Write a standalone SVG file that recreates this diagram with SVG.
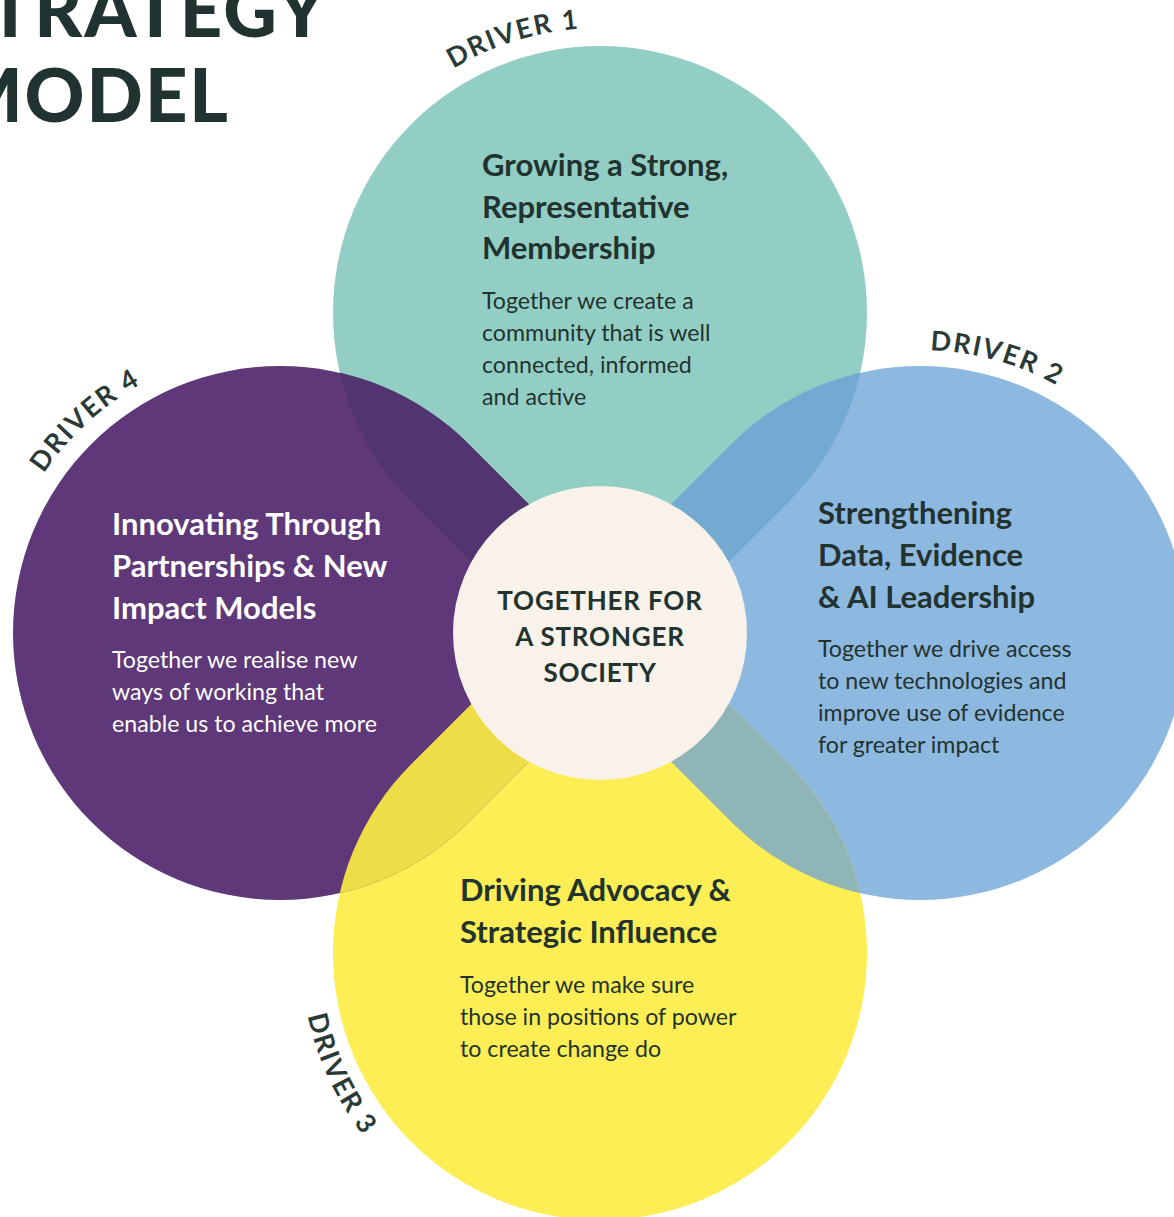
<svg xmlns="http://www.w3.org/2000/svg" width="1174" height="1217" viewBox="0 0 1174 1217">
<style>
.title{font-family:Lato,"Liberation Sans",sans-serif;font-weight:900;font-size:74px;fill:#213330;letter-spacing:2px}
.drv{font-family:Lato,"Liberation Sans",sans-serif;font-weight:700;font-size:27px;fill:#2a3b37;letter-spacing:1.8px}
.hd{font-family:Lato,"Liberation Sans",sans-serif;font-weight:700;font-size:31px;fill:#22332f}
.bd{font-family:Lato,"Liberation Sans",sans-serif;font-weight:400;font-size:23.2px;fill:#22332f}
.wh{fill:#ffffff}
.ctr{font-family:Lato,"Liberation Sans",sans-serif;font-weight:700;font-size:26px;fill:#22332f;text-anchor:middle;letter-spacing:0.8px}
</style>
<defs>
<path id="shTeal" d="M411.2 501.8 A267 267 0 1 1 788.8 501.8 L600 690.6 Z"/>
<path id="shBlue" d="M731.2 444.2 A267 267 0 1 1 731.2 821.8 L542.4 633 Z"/>
<path id="shYellow" d="M788.8 764.2 A267 267 0 1 1 411.2 764.2 L600 575.4 Z"/>
<path id="shPurple" d="M468.8 821.8 A267 267 0 1 1 468.8 444.2 L657.6 633 Z"/>
<clipPath id="cTeal"><use href="#shTeal"/></clipPath>
<clipPath id="cYellow"><use href="#shYellow"/></clipPath>
<path id="arc1" d="M389.9 120.5 A285 285 0 0 1 661.7 34.8"/>
<path id="arc2" d="M849.6 358.9 A283 283 0 0 1 1122.2 435"/>
<path id="arc3" d="M302.1 926.9 A299 299 0 0 0 428.5 1197.9"/>
<path id="arc4" d="M8.2 547.3 A285 285 0 0 1 218.3 354.8"/>
</defs>
<rect width="1174" height="1217" fill="#ffffff"/>

<g id="title">
<text class="title" x="328" y="37" text-anchor="end">STRATEGY</text>
<text class="title" x="230" y="122" text-anchor="end">MODEL</text>
</g>

<g id="shapes">
<use id="shape-driver1" href="#shTeal" fill="#93cec4"/>
<use id="shape-driver2" href="#shBlue" fill="#8db8e0"/>
<use id="shape-driver3" href="#shYellow" fill="#fdee55"/>
<use id="shape-driver4" href="#shPurple" fill="#5e3878"/>
<g id="overlaps">
<use href="#shPurple" fill="#523570" clip-path="url(#cTeal)"/>
<use href="#shBlue" fill="#74aad2" clip-path="url(#cTeal)"/>
<use href="#shPurple" fill="#eddd46" clip-path="url(#cYellow)"/>
<use href="#shBlue" fill="#8fb5b7" clip-path="url(#cYellow)"/>
</g>
</g>

<g id="driver1">
<text class="drv"><textPath href="#arc1" startOffset="50%" text-anchor="middle">DRIVER 1</textPath></text>
<text class="hd"><tspan x="482" y="176">Growing a Strong,</tspan><tspan x="482" y="218">Representative</tspan><tspan x="482" y="259">Membership</tspan></text>
<text class="bd"><tspan x="482" y="309">Together we create a</tspan><tspan x="482" y="341">community that is well</tspan><tspan x="482" y="373">connected, informed</tspan><tspan x="482" y="405">and active</tspan></text>
</g>

<g id="driver2">
<text class="drv"><textPath href="#arc2" startOffset="50%" text-anchor="middle">DRIVER 2</textPath></text>
<text class="hd"><tspan x="818" y="524">Strengthening</tspan><tspan x="818" y="566">Data, Evidence</tspan><tspan x="818" y="608">&amp; AI Leadership</tspan></text>
<text class="bd"><tspan x="818" y="657">Together we drive access</tspan><tspan x="818" y="689">to new technologies and</tspan><tspan x="818" y="721">improve use of evidence</tspan><tspan x="818" y="753">for greater impact</tspan></text>
</g>

<g id="driver3">
<text class="drv"><textPath href="#arc3" startOffset="50%" text-anchor="middle">DRIVER 3</textPath></text>
<text class="hd"><tspan x="460" y="901">Driving Advocacy &amp;</tspan><tspan x="460" y="943">Strategic Influence</tspan></text>
<text class="bd"><tspan x="460" y="993">Together we make sure</tspan><tspan x="460" y="1025">those in positions of power</tspan><tspan x="460" y="1057">to create change do</tspan></text>
</g>

<g id="driver4">
<text class="drv"><textPath href="#arc4" startOffset="50%" text-anchor="middle">DRIVER 4</textPath></text>
<text class="hd wh"><tspan x="112" y="535">Innovating Through</tspan><tspan x="112" y="577">Partnerships &amp; New</tspan><tspan x="112" y="619">Impact Models</tspan></text>
<text class="bd wh"><tspan x="112" y="668">Together we realise new</tspan><tspan x="112" y="700">ways of working that</tspan><tspan x="112" y="732">enable us to achieve more</tspan></text>
</g>

<g id="center">
<circle cx="600" cy="633" r="147" fill="#f8f2ea"/>
<text class="ctr"><tspan x="600" y="610">TOGETHER FOR</tspan><tspan x="600" y="646">A STRONGER</tspan><tspan x="600" y="682">SOCIETY</tspan></text>
</g>
</svg>
